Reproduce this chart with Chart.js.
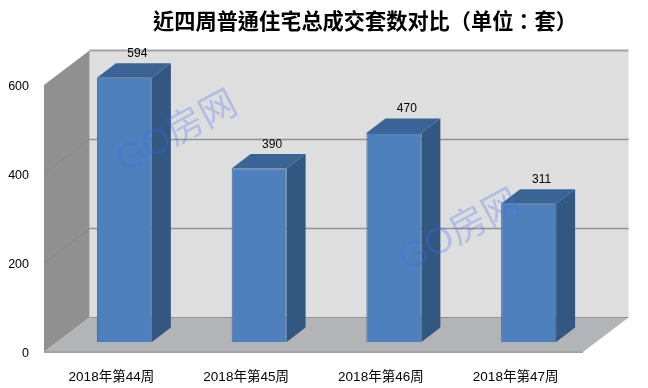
<!DOCTYPE html>
<html>
<head>
<meta charset="utf-8">
<title>近四周普通住宅总成交套数对比</title>
<script src="https://cdn.jsdelivr.net/npm/chart.js@4"></script>
<style>
  html, body { margin: 0; padding: 0; background: #fff; }
  canvas { display: block; }
</style>
</head>
<body>
<canvas id="weeklySalesChart" width="648" height="388"></canvas>
<script>
const chartTitle = '近四周普通住宅总成交套数对比（单位：套）';
const categories = ['2018年第44周', '2018年第45周', '2018年第46周', '2018年第47周'];
const salesValues = [594, 390, 470, 311];
const latin = '"Liberation Sans", "Noto Sans CJK SC", sans-serif';

// fake 3D depth, in pixels
const wallDepth = { x: 45.5, y: -34.5 };
const barShift = { x: 13, y: -10 };   // bars stand a bit behind the front plane
const barDepth = { x: 19, y: -14.5 };

function polygon(ctx, points, fill) {
  ctx.beginPath();
  points.forEach((p, i) => i ? ctx.lineTo(p[0], p[1]) : ctx.moveTo(p[0], p[1]));
  ctx.closePath();
  ctx.fillStyle = fill;
  ctx.fill();
}

function line(ctx, points, color, width) {
  ctx.beginPath();
  points.forEach((p, i) => i ? ctx.lineTo(p[0], p[1]) : ctx.moveTo(p[0], p[1]));
  ctx.strokeStyle = color;
  ctx.lineWidth = width;
  ctx.stroke();
}

const fake3d = {
  id: 'fake3d',
  afterLayout(chart) {
    // title sits right of the canvas centre in the original
    chart.titleBlock.left = 82;
    chart.titleBlock.right = 648;
  },
  // walls and floor, gridlines come from the y scale ticks
  beforeDatasetsDraw(chart) {
    const { ctx, chartArea: a, scales: { y } } = chart;
    const dx = wallDepth.x, dy = wallDepth.y;
    polygon(ctx, [[a.left + dx, a.top + dy], [a.right + dx, a.top + dy], [a.right + dx, a.bottom + dy], [a.left + dx, a.bottom + dy]], '#dedede');
    polygon(ctx, [[a.left, a.top], [a.left + dx, a.top + dy], [a.left + dx, a.bottom + dy], [a.left, a.bottom]], '#909090');
    polygon(ctx, [[a.left, a.bottom], [a.left + dx, a.bottom + dy], [a.right + dx, a.bottom + dy], [a.right, a.bottom]], '#b2b4b7');
    y.ticks.forEach(t => {
      const py = y.getPixelForValue(t.value);
      if (t.value === y.min) return;
      const isTop = t.value === y.max;
      if (!isTop) line(ctx, [[a.left, py], [a.left + dx, py + dy]], '#858585', 1);
      line(ctx, [[a.left + dx, py + dy], [a.right + dx, py + dy]], isTop ? '#a3a3a3' : '#929292', isTop ? 2 : 1.5);
    });
    line(ctx, [[a.left, a.bottom], [a.right, a.bottom]], '#a3a3a3', 2);
    line(ctx, [[a.left + dx, a.bottom + dy], [a.right + dx, a.bottom + dy]], '#939393', 1);
  },
  // shift the bars back and paint side and top faces from the bar elements
  beforeDatasetDraw(chart, args) {
    const { ctx } = chart;
    ctx.save();
    ctx.translate(barShift.x, barShift.y);
    args.meta.data.forEach(bar => {
      const l = bar.x - bar.width / 2, r = bar.x + bar.width / 2;
      const dx = barDepth.x, dy = barDepth.y;
      polygon(ctx, [[r, bar.y], [r + dx, bar.y + dy], [r + dx, bar.base + dy], [r, bar.base]], '#325780');
      polygon(ctx, [[l, bar.y], [l + dx, bar.y + dy], [r + dx, bar.y + dy], [r, bar.y]], '#3b6496');
    });
  },
  afterDatasetDraw(chart) {
    chart.ctx.restore();
  },
  afterDatasetsDraw(chart) {
    const { ctx } = chart;
    // value labels above the bars
    ctx.save();
    ctx.font = '12px ' + latin;
    ctx.fillStyle = '#000';
    ctx.textAlign = 'center';
    ctx.textBaseline = 'middle';
    chart.getDatasetMeta(0).data.forEach((bar, i) => {
      ctx.fillText(salesValues[i], bar.x + barShift.x + 13, bar.y + barShift.y + barDepth.y - 9.5);
    });
    ctx.restore();
    // watermarks
    [[177, 133], [460, 232]].forEach(pos => {
      ctx.save();
      ctx.translate(pos[0], pos[1]);
      ctx.rotate(-28 * Math.PI / 180);
      ctx.font = '37px ' + latin;
      ctx.fillStyle = 'rgba(65, 105, 240, 0.28)';
      ctx.textAlign = 'center';
      ctx.textBaseline = 'middle';
      ctx.fillText('GO房网', 0, 0);
      ctx.restore();
    });
  }
};

new Chart(document.getElementById('weeklySalesChart').getContext('2d'), {
  type: 'bar',
  plugins: [fake3d],
  data: {
    labels: categories,
    datasets: [{
      data: salesValues,
      clip: false,
      backgroundColor: '#4e80bd',
      borderColor: '#41699a',
      borderWidth: 1,
      categoryPercentage: 1,
      barPercentage: 0.408
    }]
  },
  options: {
    responsive: false,
    animation: false,
    layout: { padding: { left: 0, right: 65, top: 0, bottom: 0 } },
    plugins: {
      legend: { display: false },
      tooltip: { enabled: false },
      title: {
        display: true,
        text: chartTitle,
        color: '#000',
        font: { family: '"Noto Sans CJK TC", sans-serif', size: 21.2, weight: 'bold', lineHeight: 1.2 },
        padding: { top: 8, bottom: 51.6 }
      }
    },
    scales: {
      x: {
        grid: { display: false, drawTicks: false },
        border: { display: false },
        ticks: { color: '#000', font: { family: latin, size: 13.5 }, padding: 17, maxRotation: 0 },
        afterFit(axis) { axis.height = 36; }
      },
      y: {
        min: 0,
        max: 600,
        grid: { display: false, drawTicks: false },
        border: { display: false },
        ticks: { stepSize: 200, color: '#000', font: { family: latin, size: 12.5 }, padding: 15, labelOffset: 2 },
        afterFit(axis) { axis.width = 44; }
      }
    }
  }
});
</script>
</body>
</html>
